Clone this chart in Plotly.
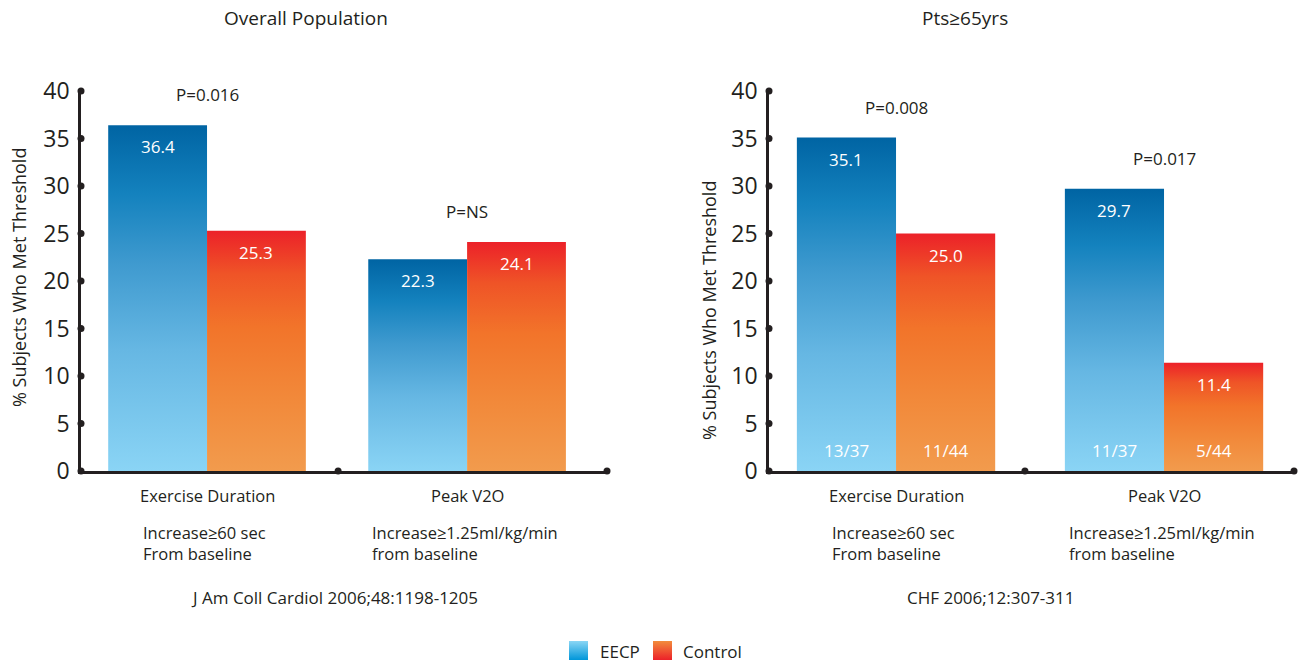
import plotly.graph_objects as go

W, H = 1305, 664

# ---- data ----
categories = ["Exercise Duration", "Peak V2O"]
criteria = ["Increase≥60 sec<br>From baseline", "Increase≥1.25ml/kg/min<br>from baseline"]
overall_eecp = [36.4, 22.3]
overall_control = [25.3, 24.1]
overall_p = ["P=0.016", "P=NS"]
elderly_eecp = [35.1, 29.7]
elderly_control = [25.0, 11.4]
elderly_p = ["P=0.008", "P=0.017"]
elderly_eecp_n = ["13/37", "11/37"]
elderly_control_n = ["11/44", "5/44"]
panel_titles = ["Overall Population", "Pts≥65yrs"]
citations = ["J Am Coll Cardiol 2006;48:1198-1205", "CHF 2006;12:307-311"]
y_ticks = [0, 5, 10, 15, 20, 25, 30, 35, 40]
series_names = ["EECP", "Control"]

# ---- style ----
FONT = "Open Sans"
INK = "#231F20"
EECP_SCALE = [[0, "#8AD4F5"], [0.35, "#66B7E3"], [0.6, "#3F9ACF"], [0.8, "#1482BE"], [1, "#0064A3"]]
CTRL_SCALE = [[0, "#F29B4D"], [0.3, "#F2893A"], [0.6, "#F2742A"], [0.82, "#EF5427"], [1, "#EC2129"]]
LEG_EECP = [[0, "#8AD6F5"], [1, "#0096D9"]]
LEG_CTRL = [[0, "#F28C3C"], [1, "#EC2129"]]


def py(p):
    """pixel row -> paper y"""
    return 1 - p / H


def px(p):
    return p / W


# panel geometry: (x domain px, x range, bar width)
panels = [
    dict(dom=(81, 607), rng=(-0.4846, 1.538), mid=0.504, bw=0.38,
         eecp=overall_eecp, ctrl=overall_control, p=overall_p, n=None,
         title_x=306, cite_x=334, ytitle_x=19, ytitle_y=278),
    dict(dom=(769, 1294), rng=(-0.474, 1.485), mid=0.481, bw=0.37,
         eecp=elderly_eecp, ctrl=elderly_control, p=elderly_p,
         n=(elderly_eecp_n, elderly_control_n),
         title_x=965, cite_x=990, ytitle_x=709, ytitle_y=311),
]

fig = go.Figure()
annotations = []

for k, pnl in enumerate(panels):
    xa = "x" if k == 0 else "x2"
    ya = "y" if k == 0 else "y2"
    bw = pnl["bw"]

    # gradient-filled bars
    for series, vals, scale in ((0, pnl["eecp"], EECP_SCALE), (1, pnl["ctrl"], CTRL_SCALE)):
        for i, v in enumerate(vals):
            x0 = i - bw if series == 0 else i
            x1 = x0 + bw
            fig.add_trace(go.Scatter(
                x=[x0, x1, x1, x0, x0], y=[0, 0, v, v, 0],
                fill="toself", mode="none",
                fillgradient=dict(type="vertical", colorscale=scale),
                hoverinfo="skip", showlegend=False, xaxis=xa, yaxis=ya,
            ))
            # value label at the top of the bar
            annotations.append(dict(
                x=(x0 + x1) / 2, y=v, xref=xa, yref=ya, text=f"{v:.1f}",
                showarrow=False, xanchor="center", yanchor="top", yshift=-8,
                font=dict(family=FONT, size=17, color="white"),
            ))
            if pnl["n"] is not None:
                annotations.append(dict(
                    x=(x0 + x1) / 2, y=0, xref=xa, yref=ya, text=pnl["n"][series][i],
                    showarrow=False, xanchor="center", yanchor="bottom", yshift=7,
                    font=dict(family=FONT, size=17, color="white"),
                ))

    # p-values above each group
    for i, ptxt in enumerate(pnl["p"]):
        top = max(pnl["eecp"][i], pnl["ctrl"][i])
        annotations.append(dict(
            x=i, y=top, xref=xa, yref=ya, text=ptxt, showarrow=False,
            xanchor="center", yanchor="bottom", yshift=17,
            font=dict(family=FONT, size=17, color=INK),
        ))

    # axis dots
    x_start, x_end = pnl["rng"]
    fig.add_trace(go.Scatter(
        x=[x_start] * len(y_ticks) + [pnl["mid"], x_end],
        y=y_ticks + [0, 0],
        mode="markers", marker=dict(size=7, color=INK),
        cliponaxis=False, hoverinfo="skip", showlegend=False, xaxis=xa, yaxis=ya,
    ))

    # category names and criteria under the axis
    for i, cat in enumerate(categories):
        annotations.append(dict(
            x=i, y=py(495), xref=xa, yref="paper", text=cat, showarrow=False,
            xanchor="center", yanchor="middle",
            font=dict(family=FONT, size=16.5, color=INK),
        ))
        annotations.append(dict(
            x=i, y=py(519), xref=xa, yref="paper", text=criteria[i], showarrow=False,
            xanchor="left", yanchor="top", align="left",
            xshift=-66 if i == 0 else -97.5,
            font=dict(family=FONT, size=16.5, color=INK),
        ))

    annotations.append(dict(
        x=px(pnl["title_x"]), y=py(18), xref="paper", yref="paper",
        text=panel_titles[k], showarrow=False, xanchor="center", yanchor="middle",
        font=dict(family=FONT, size=19, color=INK),
    ))
    annotations.append(dict(
        x=px(pnl["cite_x"]), y=py(597), xref="paper", yref="paper",
        text=citations[k], showarrow=False, xanchor="center", yanchor="middle",
        font=dict(family=FONT, size=17, color=INK),
    ))
    annotations.append(dict(
        x=px(pnl["ytitle_x"]), y=py(pnl["ytitle_y"]), xref="paper", yref="paper",
        text="% Subjects Who Met Threshold", textangle=-90, showarrow=False,
        xanchor="center", yanchor="middle",
        font=dict(family=FONT, size=18, color=INK),
    ))

# legend swatches on a hidden pixel-space axis
for name, scale, x0, tx in ((series_names[0], LEG_EECP, 569, 598),
                           (series_names[1], LEG_CTRL, 653, 681)):
    fig.add_trace(go.Scatter(
        x=[x0, x0 + 19, x0 + 19, x0, x0], y=[660, 660, 641, 641, 660],
        fill="toself", mode="none",
        fillgradient=dict(type="vertical", colorscale=[[0, scale[1][1]], [1, scale[0][1]]]),
        hoverinfo="skip", showlegend=False, xaxis="x3", yaxis="y3",
    ))
    annotations.append(dict(
        x=tx, y=651, xref="x3", yref="y3", text=name, showarrow=False,
        xanchor="left", yanchor="middle", font=dict(family=FONT, size=17, color=INK),
    ))

axis_common = dict(showline=True, linecolor=INK, linewidth=2.5, zeroline=False,
                   showgrid=False, fixedrange=True, automargin=False)

ydom = [py(471), py(91)]
for k, pnl in enumerate(panels):
    xkey = "xaxis" if k == 0 else "xaxis2"
    ykey = "yaxis" if k == 0 else "yaxis2"
    fig.update_layout(**{
        xkey: dict(domain=[px(pnl["dom"][0]), px(pnl["dom"][1])], range=list(pnl["rng"]),
                   showticklabels=False, ticks="", layer="below traces",
                   anchor="y" if k == 0 else "y2", **axis_common),
        ykey: dict(domain=ydom, range=[0, 40], tickvals=y_ticks, ticks="",
                   ticklabelstandoff=4,
                   tickfont=dict(family=FONT, size=23, color=INK),
                   anchor="x" if k == 0 else "x2", layer="below traces", **axis_common),
    })

fig.update_layout(
    xaxis3=dict(domain=[0, 1], range=[0, W], visible=False, fixedrange=True, automargin=False),
    yaxis3=dict(domain=[0, 1], range=[H, 0], visible=False, fixedrange=True,
                automargin=False, anchor="x3"),
    width=W, height=H,
    margin=dict(l=0, r=0, t=0, b=0, pad=0, autoexpand=False),
    paper_bgcolor="white", plot_bgcolor="rgba(0,0,0,0)",
    showlegend=False,
    annotations=annotations,
)

fig.write_html("out.html")
